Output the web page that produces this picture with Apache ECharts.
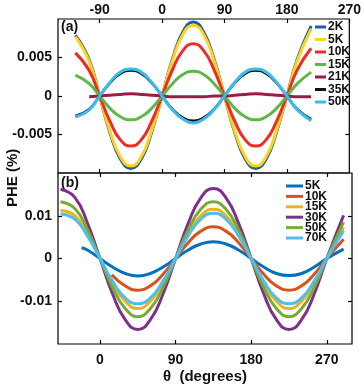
<!DOCTYPE html>
<html>
<head>
<meta charset="utf-8">
<script src="https://cdn.jsdelivr.net/npm/echarts@6/dist/echarts.min.js"></script>
<style>
	html, body { margin: 0; padding: 0; background: #fff; }
	#main { width: 364px; height: 388px; }
</style>
</head>
<body>
<div id="main"></div>
<script>
	// panel (a): theta on the top axis
	var topTheta = [-125, -105, -90, -75, -60, -45, -30, -15, 0, 15, 30, 45, 60, 75, 90, 105, 120, 135, 150, 165, 180, 195, 215];
	var top2K  = [0.0079, 0.0047, 0, -0.0048, -0.0082, -0.0094, -0.0082, -0.0047, 0, 0.0048, 0.0083, 0.0096, 0.0083, 0.0048, 0, -0.0048, -0.0082, -0.0094, -0.0082, -0.0047, 0, 0.0048, 0.0091];
	var top5K  = [0.0077, 0.0045, 0, -0.0046, -0.0079, -0.0091, -0.0079, -0.0045, 0, 0.0046, 0.0080, 0.0092, 0.0080, 0.0046, 0, -0.0046, -0.0079, -0.0091, -0.0079, -0.0045, 0, 0.0046, 0.0087];
	var top10K = [0.0056, 0.0033, 0, -0.0033, -0.0057, -0.0065, -0.0057, -0.0033, 0, 0.0034, 0.0059, 0.0068, 0.0059, 0.0034, 0, -0.0033, -0.0057, -0.0065, -0.0057, -0.0033, 0, 0.0034, 0.0062];
	var top15K = [0.0027, 0.0016, 0, -0.0016, -0.0027, -0.0031, -0.0027, -0.0016, 0, 0.0016, 0.0028, 0.0032, 0.0028, 0.0016, 0, -0.0016, -0.0027, -0.0031, -0.0027, -0.0016, 0, 0.0016, 0.0031];
	var top21K = [null, -0.0001, 0, 0.0001, 0.0002, 0.0003, 0.0002, 0.0001, 0, -0.0001, -0.0001, -0.0001, -0.0001, 0, 0, 0.0001, 0.0002, 0.0003, 0.0002, 0.0001, 0, -0.0001, -0.0001];
	var top35K = [-0.0026, -0.0017, 0, 0.0017, 0.0029, 0.0033, 0.0029, 0.0017, 0, -0.0017, -0.0028, -0.0032, -0.0028, -0.0017, 0, 0.0017, 0.0029, 0.0033, 0.0029, 0.0017, 0, -0.0017, -0.0030];
	var top50K = [-0.0027, -0.0018, 0, 0.0018, 0.0031, 0.0035, 0.0031, 0.0018, 0, -0.0018, -0.0030, -0.0035, -0.0030, -0.0018, 0, 0.0018, 0.0031, 0.0035, 0.0031, 0.0018, 0, -0.0018, -0.0032];
	var topNames = ['2K', '5K', '10K', '15K', '21K', '35K', '50K'];
	var topTicksX = [-90, 0, 90, 180, 270];
	var topTicksY = [-0.005, 0, 0.005];

	// panel (b): theta on the bottom axis
	var botTheta = [-47, -30, -15, 0, 15, 30, 45, 60, 75, 90, 105, 120, 135, 150, 165, 180, 195, 210, 225, 240, 255, 270, 290];
	var bot5KTheta = [-22, -15, 0, 15, 30, 45, 60, 75, 90, 105, 120, 135, 150, 165, 180, 195, 210, 225, 240, 255, 270, 290];
	var bot5K  = [0.0025, 0.0020, 0, -0.0020, -0.0035, -0.0041, -0.0035, -0.0020, 0, 0.0020, 0.0034, 0.0039, 0.0034, 0.0020, 0, -0.0020, -0.0035, -0.0040, -0.0035, -0.0020, 0, 0.0022];
	var bot10KTheta = [14, 30, 45, 60, 75, 90, 105, 120, 135, 150, 165, 180, 195, 210, 225, 240, 255, 270, 290];
	var bot10K = [-0.0038, -0.0064, -0.0074, -0.0064, -0.0037, 0, 0.0037, 0.0064, 0.0074, 0.0064, 0.0037, 0, -0.0037, -0.0064, -0.0074, -0.0064, -0.0037, 0, 0.0045];
	var bot15K = [0.0112, 0.0100, 0.0058, 0, -0.0058, -0.0100, -0.0117, -0.0100, -0.0058, 0, 0.0058, 0.0100, 0.0115, 0.0100, 0.0058, 0, -0.0058, -0.0100, -0.0117, -0.0100, -0.0058, 0, 0.0073];
	var bot30K = [0.0162, 0.0143, 0.0083, 0, -0.0083, -0.0143, -0.0166, -0.0143, -0.0083, 0, 0.0082, 0.0142, 0.0164, 0.0142, 0.0082, 0, -0.0083, -0.0143, -0.0166, -0.0143, -0.0083, 0, 0.0101];
	var bot50K = [0.0133, 0.0117, 0.0068, 0, -0.0068, -0.0117, -0.0136, -0.0117, -0.0068, 0, 0.0067, 0.0115, 0.0133, 0.0115, 0.0067, 0, -0.0068, -0.0117, -0.0136, -0.0117, -0.0068, 0, 0.0085];
	var bot70K = [0.0104, 0.0092, 0.0053, 0, -0.0053, -0.0092, -0.0106, -0.0092, -0.0053, 0, 0.0053, 0.0092, 0.0106, 0.0092, 0.0053, 0, -0.0053, -0.0092, -0.0106, -0.0092, -0.0053, 0, 0.0065];
	// trailing space keeps these apart from the panel (a) names that look the same
	var botNames = ['5K ', '10K ', '15K ', '30K ', '50K ', '70K '];
	var botTicksX = [0, 90, 180, 270];
	var botTicksY = [-0.01, 0, 0.01];

	var topColors = ['#1f5cb0', '#ffd31a', '#ee2b25', '#5db947', '#9a1d47', '#111111', '#3bbcec'];
	var botColors = ['#0072bd', '#d95319', '#edb120', '#7e2f8e', '#77ac30', '#4dbeee'];

	function pairs(xs, ys) {
		var out = [];
		for (var i = 0; i < xs.length; i++) {
			out.push([xs[i], ys[i]]);
		}
		return out;
	}

	var font = 'Liberation Sans';
	var tickStyle = { show: true, inside: true, length: 4, lineStyle: { color: '#000', width: 1.2 } };

	function xAx(grid, pos, min, max, ticks, labels) {
		return {
			type: 'value', gridIndex: grid, position: pos, min: min, max: max,
			axisLine: { show: false, onZero: false },
			splitLine: { show: false },
			axisTick: Object.assign({ customValues: ticks }, tickStyle),
			axisLabel: {
				show: labels, customValues: ticks, margin: pos === 'top' ? 2 : 9,
				color: '#111', fontFamily: font, fontWeight: 'bold', fontSize: 14
			}
		};
	}
	function yAx(grid, pos, min, max, ticks, labels) {
		return {
			type: 'value', gridIndex: grid, position: pos, min: min, max: max,
			axisLine: { show: false, onZero: false },
			splitLine: { show: false },
			axisTick: Object.assign({ customValues: ticks }, tickStyle),
			axisLabel: {
				show: labels, customValues: ticks, margin: 6,
				color: '#111', fontFamily: font, fontWeight: 'bold', fontSize: 14
			}
		};
	}

	var topData = [top2K, top5K, top10K, top15K, top21K, top35K, top50K];
	var botData = [
		pairs(bot5KTheta, bot5K), pairs(bot10KTheta, bot10K), pairs(botTheta, bot15K),
		pairs(botTheta, bot30K), pairs(botTheta, bot50K), pairs(botTheta, bot70K)
	];

	var series = [];
	for (var i = 0; i < topNames.length; i++) {
		series.push({
			name: topNames[i], type: 'line', xAxisIndex: 0, yAxisIndex: 0,
			data: pairs(topTheta, topData[i]), smooth: true, showSymbol: false,
			color: topColors[i], lineStyle: { width: i === 5 ? 2.5 : 3, color: topColors[i] }
		});
	}
	for (var j = 0; j < botNames.length; j++) {
		series.push({
			name: botNames[j], type: 'line', xAxisIndex: 2, yAxisIndex: 2,
			data: botData[j], smooth: true, showSymbol: false,
			color: botColors[j], lineStyle: { width: 3, color: botColors[j] }
		});
	}

	var legendText = { fontFamily: font, fontWeight: 'bold', fontSize: 12, color: '#111', padding: [0, 0, 0, -3] };

	var option = {
		animation: false,
		backgroundColor: '#fff',
		grid: [
			{ left: 58, top: 19, width: 294, height: 154, show: true, borderColor: '#000', borderWidth: 1.2 },
			{ left: 58, top: 173, width: 294, height: 171, show: true, borderColor: '#000', borderWidth: 1.2 }
		],
		xAxis: [
			xAx(0, 'top', -150, 270, topTicksX, true),
			xAx(0, 'bottom', -150, 270, topTicksX.slice(0, 4), false),
			Object.assign(xAx(1, 'bottom', -50, 300, botTicksX, true), {
				name: 'θ  (degrees)', nameLocation: 'middle', nameGap: 25,
				nameTextStyle: { fontFamily: font, fontWeight: 'bold', fontSize: 15, color: '#111' }
			}),
			xAx(1, 'top', -50, 300, botTicksX, false)
		],
		yAxis: [
			yAx(0, 'left', -0.01, 0.01, topTicksY, true),
			yAx(0, 'right', -0.01, 0.01, topTicksY, false),
			yAx(1, 'left', -0.02, 0.02, botTicksY, true),
			yAx(1, 'right', -0.02, 0.02, botTicksY, false)
		],
		legend: [
			{
				data: topNames, orient: 'vertical', left: 315, top: 21, padding: 0,
				itemWidth: 11, itemHeight: 3, itemGap: 0.5, icon: 'rect',
				textStyle: Object.assign({ lineHeight: 12 }, legendText)
			},
			{
				data: botNames, orient: 'vertical', left: 286, top: 180, padding: 0,
				itemWidth: 17, itemHeight: 3, itemGap: -1.6, icon: 'rect',
				textStyle: Object.assign({ lineHeight: 12 }, legendText)
			}
		],
		graphic: [
			{ type: 'text', left: 61, top: 20, style: { text: '(a)', font: 'bold 14px ' + font, fill: '#111' } },
			{ type: 'text', left: 61, top: 176, style: { text: '(b)', font: 'bold 14px ' + font, fill: '#111' } },
			{ type: 'text', x: 5, y: 207, rotation: Math.PI / 2, style: { text: 'PHE (%)', font: 'bold 15px ' + font, fill: '#111' } }
		],
		series: series
	};

	var myChart = echarts.init(document.getElementById('main'));
	myChart.setOption(option);
</script>
</body>
</html>
